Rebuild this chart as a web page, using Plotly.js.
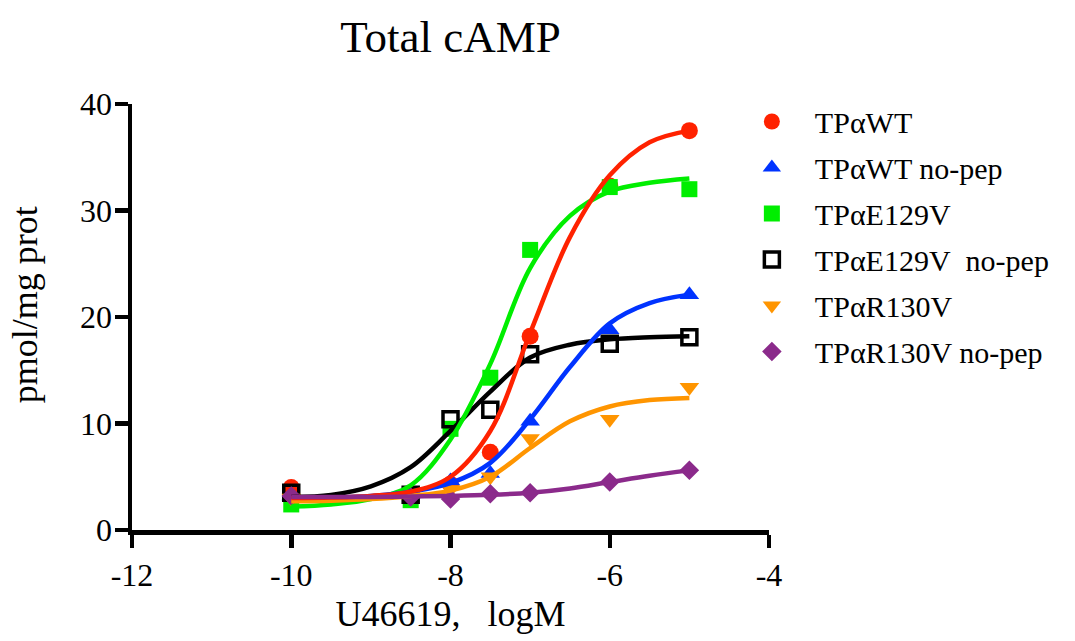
<!DOCTYPE html>
<html>
<head>
<meta charset="utf-8">
<script src="https://cdn.plot.ly/plotly-3.0.1.min.js"></script>
<style>html,body{margin:0;padding:0;background:#fff;}#chart{width:1075px;height:641px;}</style>
</head>
<body>
<div id="chart"></div>
<script>
// Measured doses (log M)
const doses = [-10, -8.5, -8, -7.5, -7, -6, -5];
// Measured points (pmol/mg prot)
const wt        = [4.0, 3.3, 4.3, 7.3, 18.2, 32.3, 37.5];
const wtNoPep   = [3.2, 3.3, 4.6, 5.3, 10.2, 18.8, 22.1];
const e129v     = [2.4, 2.8, 9.5, 14.3, 26.3, 32.2, 32.0];
const e129vNoPep= [3.5, 3.3, 10.4, 11.3, 16.5, 17.5, 18.1];
const r130v     = [3.0, 3.2, 3.8, 5.0, 8.6, 10.4, 13.4];
const r130vNoPep= [3.2, 3.1, 2.9, 3.4, 3.5, 4.5, 5.6];

// Fitted curves
const fitX          = [-10, -9.5, -9, -8.5, -8, -7.5, -7, -6.5, -6, -5.5, -5];
const wtFit         = [3.0, 3.05, 3.2, 3.6, 5.0, 9.3, 18.5, 27.5, 33.3, 36.4, 37.5];
const wtNoPepFit    = [3.0, 3.05, 3.2, 3.6, 4.4, 6.3, 10.4, 15.3, 19.4, 21.3, 22.1];
const e129vFit      = [2.2, 2.4, 2.9, 4.2, 8.5, 15.6, 24.6, 29.5, 31.8, 32.6, 33.0];
const e129vNoPepFit = [3.1, 3.3, 4.1, 5.9, 9.3, 13.0, 16.2, 17.4, 17.9, 18.1, 18.2];
const r130vFit      = [2.7, 2.75, 2.9, 3.2, 3.7, 5.0, 7.7, 10.2, 11.6, 12.2, 12.4];
const r130vNoPepFit = [3.1, 3.1, 3.1, 3.15, 3.2, 3.3, 3.5, 3.9, 4.5, 5.1, 5.6];

const seriesNames = ['TP\u03b1WT', 'TP\u03b1WT no-pep', 'TP\u03b1E129V', 'TP\u03b1E129V\u00a0 no-pep', 'TP\u03b1R130V', 'TP\u03b1R130V no-pep'];
const xTicks = [-12, -10, -8, -6, -4];
const yTicks = [0, 10, 20, 30, 40];

// drawing order of points (first = bottom)
const series = [
  {name: seriesNames[0], y: wt, fit: wtFit, color: '#FF2200', symbol: 'circle', size: 17, rank: 1},
  {name: seriesNames[1], y: wtNoPep, fit: wtNoPepFit, color: '#0033FF', symbol: 'triangle-up', size: 17, rank: 2},
  {name: seriesNames[2], y: e129v, fit: e129vFit, color: '#00EE00', symbol: 'square', size: 16, rank: 3},
  {name: seriesNames[3], y: e129vNoPep, fit: e129vNoPepFit, color: '#000000', symbol: 'square-open', size: 15, rank: 4, lw: 3.5},
  {name: seriesNames[4], y: r130v, fit: r130vFit, color: '#FF9500', symbol: 'triangle-down', size: 17, rank: 5},
  {name: seriesNames[5], y: r130vNoPep, fit: r130vNoPepFit, color: '#8B2A8B', symbol: 'diamond', size: 15, rank: 6}
];
// drawing order of curves (drawn above the points)
const lineOrder = [3, 2, 1, 4, 0, 5];

const traces = [];
series.forEach(s => {
  traces.push({
    x: doses, y: s.y, mode: 'markers', type: 'scatter', name: s.name,
    legendgroup: s.name, legendrank: s.rank,
    marker: {color: s.color, symbol: s.symbol, size: s.size, line: {color: s.color, width: s.lw || 0}}
  });
});
lineOrder.forEach(i => {
  const s = series[i];
  traces.push({
    x: fitX, y: s.fit, mode: 'lines', type: 'scatter',
    line: {color: s.color, width: 4.5, shape: 'spline', smoothing: 1},
    showlegend: false, hoverinfo: 'skip', legendgroup: s.name
  });
});

const font = 'Liberation Serif, Times New Roman, serif';
const layout = {
  width: 1075, height: 641,
  margin: {l: 132, r: 306, t: 104, b: 111},
  paper_bgcolor: '#fff', plot_bgcolor: '#fff',
  font: {family: font, color: '#000'},
  title: {text: 'Total cAMP', font: {family: font, size: 45, color: '#000'}, x: 0.419, xanchor: 'center', xref: 'container', y: 0.944, yanchor: 'middle', yref: 'container'},
  xaxis: {
    range: [-12, -4], tickvals: xTicks, ticktext: xTicks.map(String),
    showgrid: false, zeroline: false, showline: true, linecolor: '#000', linewidth: 4.5,
    ticks: 'outside', ticklen: 13, tickwidth: 4.5, tickcolor: '#000',
    tickfont: {family: font, size: 32, color: '#000'},
    title: {text: 'U46619,\u00a0\u00a0 logM', font: {family: font, size: 36, color: '#000'}, standoff: 10}
  },
  yaxis: {
    range: [0, 40], tickvals: yTicks, ticktext: yTicks.map(String),
    showgrid: false, zeroline: false, showline: true, linecolor: '#000', linewidth: 4.5,
    ticks: 'outside', ticklen: 13, tickwidth: 4.5, tickcolor: '#000',
    ticklabelstandoff: -4,
    tickfont: {family: font, size: 32, color: '#000'}
  },
  annotations: [{
    text: 'pmol/mg prot', textangle: -90, showarrow: false,
    xref: 'paper', yref: 'paper', x: -0.168, y: 0.53, xanchor: 'center', yanchor: 'middle',
    font: {family: font, size: 36, color: '#000'}
  }],
  legend: {
    x: 0.937, y: 1.02, xanchor: 'left', yanchor: 'top',
    font: {family: font, size: 30, color: '#000'},
    tracegroupgap: 4, itemwidth: 76, bgcolor: 'rgba(0,0,0,0)', traceorder: 'grouped'
  },
  showlegend: true
};

Plotly.newPlot('chart', traces, layout, {staticPlot: true, displayModeBar: false});
</script>
</body>
</html>
